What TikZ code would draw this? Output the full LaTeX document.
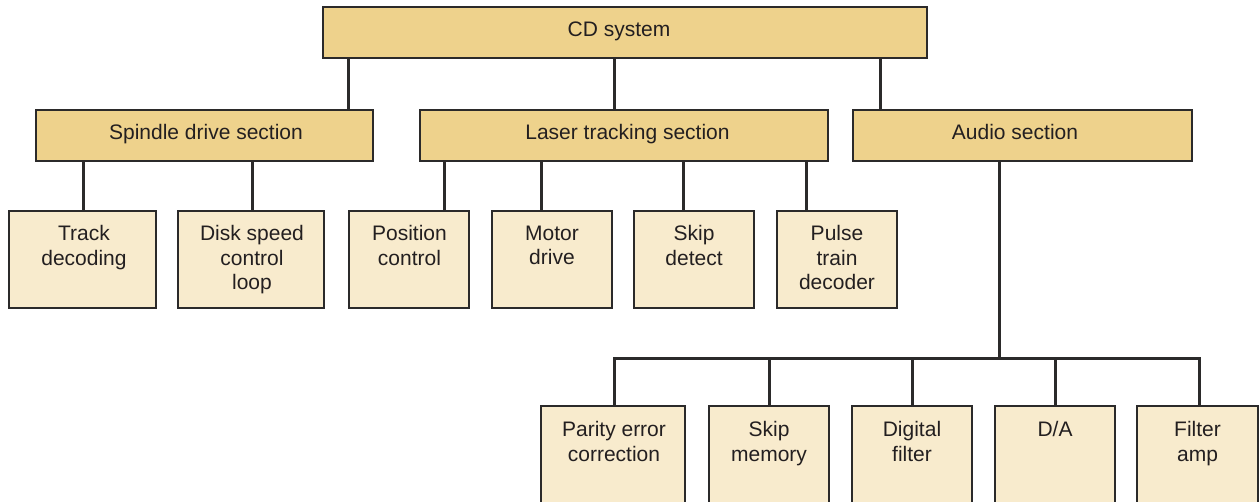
\documentclass[tikz,border=0pt]{standalone}
\usepackage{fontspec}
\setmainfont{Liberation Sans}
\definecolor{headfill}{HTML}{EED28C}
\definecolor{leaffill}{HTML}{F8EBCD}
\definecolor{edge}{HTML}{2B2A2A}
\definecolor{ink}{HTML}{231F20}
\tikzset{
  box/.style={rectangle, draw=edge, line width=2pt, inner sep=0pt, minimum height=51pt},
  head/.style={box, fill=headfill},
  leaf/.style={box, fill=leaffill, minimum height=97pt},
  low/.style={box, fill=leaffill, minimum height=114pt},
  txt/.style={anchor=north, inner sep=0pt, align=center, text=ink,
    font=\fontsize{21}{24.5}\selectfont},
  wire/.style={draw=edge, line width=3pt}
}
\begin{document}
\begin{tikzpicture}[x=1pt, y=-1pt]
\useasboundingbox (0,0) rectangle (1260,502);
\clip (0,0) rectangle (1260,502);
% connectors (drawn first, boxes cover their ends)
\coordinate (bus) at (999,358);
\coordinate (busl) at (614,358);
\coordinate (busr) at (1199,358);
% boxes
\node[head, minimum width=604pt] (cd) at (625,32.5) {};
\node[head, minimum width=337pt] (sd) at (204.5,135.5) {};
\node[head, minimum width=408pt] (lt) at (624,135.5) {};
\node[head, minimum width=339pt] (au) at (1022.5,135.5) {};
\node[leaf, minimum width=147pt] (td) at (82.5,259.5) {};
\node[leaf, minimum width=146pt] (ds) at (251,259.5) {};
\node[leaf, minimum width=120pt] (pc) at (409,259.5) {};
\node[leaf, minimum width=120pt] (md) at (552,259.5) {};
\node[leaf, minimum width=120pt] (sk) at (694,259.5) {};
\node[leaf, minimum width=120pt] (pt) at (837,259.5) {};
\node[low, minimum width=144pt] (pe) at (613,463) {};
\node[low, minimum width=120pt] (sm) at (769,463) {};
\node[low, minimum width=120pt] (df) at (912,463) {};
\node[low, minimum width=120pt] (da) at (1055,463) {};
\node[low, minimum width=121pt] (fa) at (1197.5,463) {};
% texts
\node[txt] (cdt) at (619,22) {CD system};
\node[txt] (sdt) at (206,124.5) {Spindle drive section};
\node[txt] (ltt) at (627.5,124.5) {Laser tracking section};
\node[txt] (aut) at (1015,124.5) {Audio section};
\node[txt] (tdt) at (84,225.5) {Track\\decoding};
\node[txt] (dst) at (252,225.5) {Disk speed\\control\\loop};
\node[txt] (pct) at (409.5,225.5) {Position\\control};
\node[txt] (mdt) at (552,225.5) {Motor\\drive};
\node[txt] (skt) at (694,225.5) {Skip\\detect};
\node[txt] (ptt) at (837,225.5) {Pulse\\train\\decoder};
\node[txt] (pet) at (614,421.5) {Parity error\\correction};
\node[txt] (smt) at (769,421.5) {Skip\\memory};
\node[txt] (dft) at (912,421.5) {Digital\\filter};
\node[txt] (dat) at (1055,421.5) {D/A};
\node[txt] (fat) at (1197.5,421.5) {Filter\\amp};
% connectors
\draw[wire] (cd.south -| 348,0) -- (sd.north -| 348,0);
\draw[wire] (cd.south -| 614,0) -- (lt.north -| 614,0);
\draw[wire] (cd.south -| 880,0) -- (au.north -| 880,0);
\draw[wire] (sd.south -| 83,0) -- (td.north -| 83,0);
\draw[wire] (sd.south -| 252,0) -- (ds.north -| 252,0);
\draw[wire] (lt.south -| 444,0) -- (pc.north -| 444,0);
\draw[wire] (lt.south -| 541,0) -- (md.north -| 541,0);
\draw[wire] (lt.south -| 683,0) -- (sk.north -| 683,0);
\draw[wire] (lt.south -| 806,0) -- (pt.north -| 806,0);
\draw[wire] (au.south -| bus) -- (bus);
\draw[wire, line join=miter] (pe.north -| busl) -- (busl) -- (busr) -- (fa.north -| busr);
\draw[wire] (sm.north) -- (sm.north |- bus);
\draw[wire] (df.north) -- (df.north |- bus);
\draw[wire] (da.north) -- (da.north |- bus);
\end{tikzpicture}
\end{document}
